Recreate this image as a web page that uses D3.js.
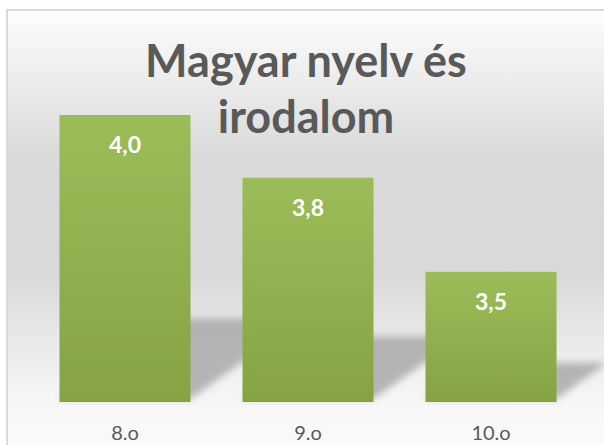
<!DOCTYPE html>
<html lang="hu">
<head>
  <meta charset="UTF-8">
  <title>Magyar nyelv és irodalom</title>
  <script src="https://d3js.org/d3.v7.min.js"></script>
  <style>
    body { margin: 0; background: #fff; }
    svg { display: block; }
  </style>
</head>
<body>
<svg width="604" height="445"></svg>
<script>
  // chart data
  const grades = ["8.o", "9.o", "10.o"];
  const averages = [4.0, 3.8, 3.5];
  const titleLines = ["Magyar nyelv és", "irodalom"];

  const svg = d3.select("svg");
  const plot = { left: 33.5, right: 582.5, top: 10, bottom: 402 };

  const x = d3.scaleBand()
    .domain(grades)
    .range([plot.left, plot.right])
    .paddingInner(0.284)
    .paddingOuter(0.142);

  // value axis in the original does not start at zero
  const y = d3.scaleLinear()
    .domain([3.085, 4.0])
    .range([plot.bottom, 115]);

  const defs = svg.append("defs");

  const bg = defs.append("linearGradient")
    .attr("id", "bg")
    .attr("gradientUnits", "userSpaceOnUse")
    .attr("x1", 0).attr("y1", 10).attr("x2", 0).attr("y2", 450);
  [[0, "#fdfdfd"], [0.33, "#dadada"], [0.6, "#d9d9d9"], [0.78, "#ececec"], [0.9, "#f7f7f7"], [1, "#fafafa"]]
    .forEach(s => bg.append("stop").attr("offset", s[0]).attr("stop-color", s[1]));

  const barGrad = defs.append("linearGradient")
    .attr("id", "barGrad")
    .attr("x1", 0).attr("y1", 0).attr("x2", 0).attr("y2", 1);
  barGrad.append("stop").attr("offset", 0).attr("stop-color", "#9cbc5a");
  barGrad.append("stop").attr("offset", 1).attr("stop-color", "#85a343");

  defs.append("filter")
    .attr("id", "blur")
    .attr("x", "-20%").attr("y", "-20%").attr("width", "140%").attr("height", "140%")
    .append("feGaussianBlur")
    .attr("stdDeviation", 3.5);

  // chart area with border
  svg.append("rect")
    .attr("x", 7).attr("y", 10)
    .attr("width", 610).attr("height", 450)
    .attr("fill", "url(#bg)")
    .attr("stroke", "#d9d9d9")
    .attr("stroke-width", 2);

  // perspective shadows behind the bars
  svg.append("g")
    .selectAll("polygon")
    .data(averages)
    .join("polygon")
    .attr("fill", "#a6a6a6")
    .attr("opacity", 0.8)
    .attr("filter", "url(#blur)")
    .attr("points", (d, i) => {
      const x0 = x(grades[i]), x1 = x0 + x.bandwidth();
      const h = (plot.bottom - y(d)) * 0.28;
      const dx = h * 1.4;
      const b = plot.bottom - 3;
      return [[x0, b], [x1, b], [x1 + dx, b - h], [x0 + dx, b - h]].join(" ");
    });

  // bars
  svg.append("g")
    .selectAll("rect")
    .data(averages)
    .join("rect")
    .attr("x", (d, i) => x(grades[i]))
    .attr("y", d => y(d))
    .attr("width", x.bandwidth())
    .attr("height", d => plot.bottom - y(d))
    .attr("fill", "url(#barGrad)");

  // value labels
  const fmt = d => d.toFixed(1).replace(".", ",");
  svg.append("g")
    .selectAll("text")
    .data(averages)
    .join("text")
    .attr("x", (d, i) => x(grades[i]) + x.bandwidth() / 2)
    .attr("y", d => y(d) + 38)
    .attr("text-anchor", "middle")
    .attr("font-family", "Lato, 'Open Sans', sans-serif")
    .attr("font-weight", "bold")
    .attr("font-size", 23)
    .attr("fill", "#ffffff")
    .text(fmt);

  // category axis
  const xAxis = svg.append("g")
    .attr("transform", `translate(0,${plot.bottom})`)
    .call(d3.axisBottom(x).tickSize(0).tickPadding(24));
  xAxis.select(".domain").remove();
  xAxis.selectAll("text")
    .attr("font-family", "Lato, 'Open Sans', sans-serif")
    .attr("font-size", 20)
    .attr("fill", "#595959");

  // title
  svg.append("text")
    .attr("font-family", "Lato, 'Open Sans', sans-serif")
    .attr("font-weight", "bold")
    .attr("font-size", 45)
    .attr("fill", "#595959")
    .attr("text-anchor", "middle")
    .selectAll("tspan")
    .data(titleLines)
    .join("tspan")
    .attr("x", 306)
    .attr("y", (d, i) => 77 + i * 56)
    .text(d => d);
</script>
</body>
</html>
